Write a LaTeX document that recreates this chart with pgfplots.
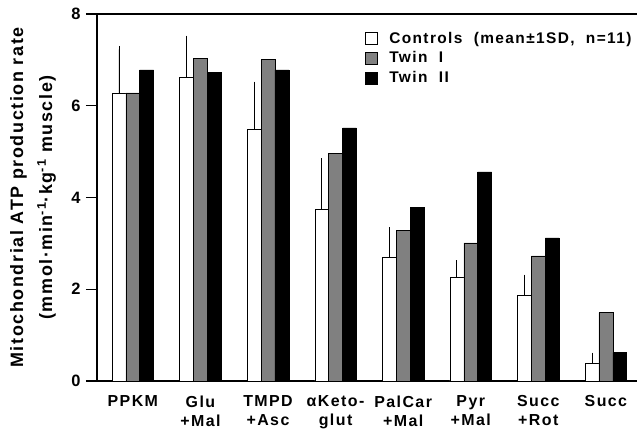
\documentclass[border=0pt]{standalone}
\usepackage{pgfplots}
\pgfplotsset{compat=1.18}
\usepackage{fontspec}
\setmainfont{Liberation Sans}[LetterSpace=9]

% ATP production rate, upper SD for controls only
\pgfplotstableread{
x  ctl   sd    tw1   tw2
0  6.28  0.95  6.28  6.78
1  6.62  0.83  7.04  6.72
2  5.49  0.96  7.01  6.78
3  3.75  1.03  4.97  5.52
4  2.69  0.58  3.29  3.78
5  2.26  0.30  3.01  4.56
6  1.87  0.37  2.73  3.12
7  0.39  0.15  1.49  0.62
}\atp

\begin{document}
\begin{tikzpicture}
\begin{axis}[
  name=ax,
  scale only axis,
  width=540bp, height=367bp,
  xmin=-0.53, xmax=7.46,
  ymin=0, ymax=8,
  ytick={0,2,4,6,8},
  xtick=data,
  xticklabels={PPKM, {Glu\\+Mal}, {TMPD\\+Asc}, {αKeto-\\glut}, {PalCar\\+Mal}, {Pyr\\+Mal}, {Succ\\+Rot}, Succ},
  axis x line*=box,
  axis y line*=left,
  axis line style={line width=1.4pt},
  x tick style={draw=none},
  y tick style={line width=1.2pt, black},
  major tick length=11bp,
  tick align=outside,
  /pgf/number format/assume math mode=true,
  yticklabel style={font=\bfseries\fontsize{16.5}{16.5}\selectfont, xshift=-2bp},
  xticklabel style={font=\bfseries\fontsize{16}{19}\selectfont, align=center},
  ylabel={Mitochondrial ATP production rate\\(mmol·min\textsuperscript{-1}·kg\textsuperscript{-1} muscle)},
  ylabel style={font=\bfseries\fontsize{18}{29}\selectfont, align=center,
    at={(rel axis cs:0,0.5)}, anchor=center, yshift=64bp},
  ybar=0pt,
  bar width=0.205,
  legend style={draw=none, fill=none, at={(0.49,0.962)}, anchor=north west,
    font=\bfseries\fontsize{15.5}{15.5}\selectfont, row sep=3bp},
  legend cell align=left,
  legend image code/.code={\draw[#1, line width=0.5pt] (0bp,-6bp) rectangle (12bp,6bp);
    \path (22bp,0bp);},
]
\addplot[draw=black, line width=0.5pt, fill=white,
  error bars/.cd, y dir=plus, y explicit, error mark=-,
  error mark options={mark size=3.5bp, line width=0.8pt, black},
  error bar style={line width=0.8pt, black}]
  table[x=x, y=ctl, y error=sd] {\atp};
\addplot[draw=black, line width=0.5pt, fill=black!50] table[x=x, y=tw1] {\atp};
\addplot[draw=black, line width=0.5pt, fill=black] table[x=x, y=tw2] {\atp};
\legend{{Controls\ \ (mean±1SD,\ \ n=11)}, {Twin\ \ I}, {Twin\ \ II}}
\end{axis}
\pgfresetboundingbox
\path ([xshift=-97bp, yshift=-48bp]ax.south west) rectangle ([yshift=14bp]ax.north east);
\end{tikzpicture}
\end{document}
